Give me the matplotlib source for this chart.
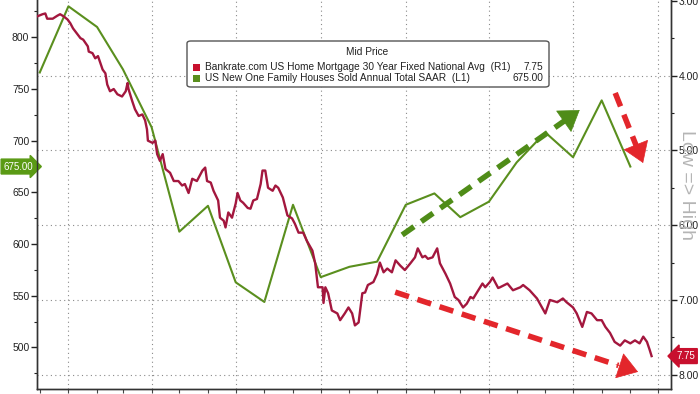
import numpy as np
import matplotlib
matplotlib.use("Agg")
import matplotlib.pyplot as plt
import matplotlib.dates as mdates
import matplotlib.transforms as mtrans
from matplotlib.patches import FancyBboxPatch, Rectangle

plt.rcParams['font.family'] = ['Liberation Sans', 'DejaVu Sans']

# ---------------- data ----------------
sales_months = ['2021-12', '2022-01', '2022-02', '2022-03', '2022-04', '2022-05', '2022-06',
                '2022-07', '2022-08', '2022-09', '2022-10', '2022-11', '2022-12', '2023-01',
                '2023-02', '2023-03', '2023-04', '2023-05', '2023-06', '2023-07', '2023-08',
                '2023-09']
sales_values = [766, 830, 810, 769, 713, 612, 637, 563, 544, 638, 568, 578, 583, 638,
                649, 626, 641, 679, 708, 684, 739, 675]

# mortgage rate: days since 2022-01-01 and rate (%)
mort_days = [-34, -28, -25, -23, -17, -12, -9, -5, -1, 2, 5, 10, 13, 16, 21, 22, 26, 29, 32,
             35, 37, 40, 42, 45, 49, 53, 58, 62, 64, 65, 69, 72, 76, 80, 83, 85, 86, 91, 94,
             96, 99, 102, 105, 110, 114, 119, 123, 126, 130, 134, 139, 145, 148, 150, 154,
             157, 162, 164, 168, 170, 173, 177, 181, 183, 186, 189, 194, 197, 200, 204, 208,
             210, 213, 216, 221, 224, 227, 232, 237, 242, 245, 249, 254, 258, 264, 267, 270,
             275, 276, 278, 281, 285, 291, 294, 299, 303, 307, 310, 314, 318, 321, 324, 330,
             334, 337, 341, 345, 350, 354, 359, 364, 370, 375, 378, 383, 386, 389, 394, 399,
             402, 408, 413, 418, 422, 427, 431, 435, 438, 442, 448, 451, 456, 459, 465, 467,
             475, 481, 489, 492, 499, 507, 516, 521, 529, 535, 539, 546, 550, 556, 561, 566,
             572, 577, 581, 586, 591, 597, 602, 608, 613, 618, 622, 626, 629, 631]
mort_rates = [3.21, 3.18, 3.17, 3.24, 3.24, 3.20, 3.18, 3.21, 3.25, 3.30, 3.37, 3.45, 3.50,
              3.52, 3.61, 3.68, 3.70, 3.77, 3.74, 3.85, 3.92, 3.97, 4.12, 4.21, 4.18, 4.25,
              4.28, 4.21, 4.10, 4.18, 4.34, 4.45, 4.54, 4.52, 4.60, 4.72, 4.87, 4.90, 4.87,
              5.05, 5.14, 5.05, 5.25, 5.30, 5.41, 5.41, 5.47, 5.45, 5.57, 5.38, 5.41, 5.27,
              5.23, 5.41, 5.43, 5.54, 5.67, 5.90, 5.94, 6.03, 5.83, 5.90, 5.71, 5.57, 5.67,
              5.70, 5.77, 5.78, 5.67, 5.65, 5.45, 5.27, 5.27, 5.50, 5.54, 5.47, 5.50, 5.63,
              5.87, 5.91, 5.98, 6.10, 6.10, 6.21, 6.34, 6.51, 6.83, 6.83, 7.04, 6.83, 6.91,
              7.14, 7.18, 7.27, 7.18, 7.10, 7.18, 7.34, 7.30, 6.91, 6.90, 6.80, 6.76, 6.65,
              6.50, 6.63, 6.58, 6.63, 6.47, 6.54, 6.60, 6.51, 6.43, 6.31, 6.43, 6.41, 6.45,
              6.43, 6.31, 6.51, 6.65, 6.78, 6.96, 7.00, 7.10, 7.05, 6.96, 6.98, 6.90, 6.78,
              6.83, 6.76, 6.70, 6.84, 6.83, 6.78, 6.87, 6.83, 6.80, 6.87, 6.98, 7.18, 7.00,
              7.03, 6.98, 7.03, 7.10, 7.18, 7.36, 7.16, 7.18, 7.27, 7.27, 7.36, 7.44, 7.56,
              7.61, 7.54, 7.58, 7.54, 7.58, 7.49, 7.56, 7.67, 7.75]

legend_title = "Mid Price"
mort_label = "Bankrate.com US Home Mortgage 30 Year Fixed National Avg  (R1)"
sales_label = "US New One Family Houses Sold Annual Total SAAR  (L1)"
mort_last = "7.75"
sales_last = "675.00"

# ---------------- styles ----------------
RED = '#a3173e'
GREEN = '#5a8f1e'
ARROW_RED = '#e3262b'
ARROW_GREEN = '#4f8c18'
TAG_GREEN = '#5a9a14'
TAG_RED = '#c8102e'

sales_dates = np.array([np.datetime64(m + '-01') for m in sales_months])
mort_dates = np.datetime64('2022-01-01') + np.array(mort_days).astype('timedelta64[D]')

fig = plt.figure(figsize=(7.0, 3.94), dpi=100)
ax = fig.add_axes([37 / 700, 5 / 394, 634 / 700, 389 / 394])
ax2 = ax.twinx()

ax.set_xlim(np.datetime64('2021-11-28'), np.datetime64('2023-10-15'))
ax.set_ylim(459.8, 836.1)
ax2.set_ylim(8.19, 2.99)

# gridlines
for q in ['2022-01-01', '2022-04-01', '2022-07-01', '2022-10-01', '2023-01-01',
          '2023-04-01', '2023-07-01', '2023-10-01']:
    ax.axvline(np.datetime64(q), color='#8a8a8a', lw=0.8, ls=(0, (1, 3)), zorder=0)
for r in [4, 5, 6, 7, 8]:
    ax2.axhline(r, color='#8a8a8a', lw=0.8, ls=(0, (1, 3)), zorder=0)

ax.plot(sales_dates, sales_values, color=GREEN, lw=1.5, zorder=3)
ax2.plot(mort_dates, mort_rates, color=RED, lw=1.7, zorder=3)

# ticks
ax.set_yticks([500, 550, 600, 650, 700, 750, 800])
ax.set_yticks(np.arange(475, 836, 25), minor=True)
ax2.set_yticks([3, 4, 5, 6, 7, 8])
ax2.set_yticklabels(['3.00', '4.00', '5.00', '6.00', '7.00', '8.00'])
ax2.set_yticks(np.arange(3.5, 8.1, 1.0), minor=True)
ax.xaxis.set_major_locator(mdates.MonthLocator())
ax.xaxis.set_major_formatter(plt.NullFormatter())
for a in (ax, ax2):
    a.tick_params(axis='y', which='major', length=4, width=1, labelsize=7.5,
                  colors='#222222', pad=1.5)
    a.tick_params(axis='y', which='minor', length=2.5, width=0.8, colors='#222222')
ax.tick_params(axis='x', length=3, width=0.8, colors='#444444')
for a in (ax, ax2):
    a.spines['top'].set_visible(False)
    for s in ('left', 'right', 'bottom'):
        a.spines[s].set_color('#333333')
        a.spines[s].set_linewidth(1.0)

# arrows (annotations, axes fraction)
def dashed_arrow(start, tip, color):
    sx, sy = start
    tx, ty = tip
    d = np.hypot(tx - sx, ty - sy)
    f = 1 - 0.035 / d
    ax2.plot([sx, sx + (tx - sx) * f], [sy, sy + (ty - sy) * f], transform=ax2.transAxes,
             color=color, lw=4, ls=(0, (2.6, 1.6)), solid_capstyle='butt', zorder=6)
    ax2.annotate('', xy=(tx, ty), xycoords='axes fraction',
                 xytext=(sx + (tx - sx) * (f - 0.01), sy + (ty - sy) * (f - 0.01)),
                 textcoords='axes fraction',
                 arrowprops=dict(arrowstyle='-|>,head_length=0.9,head_width=0.6',
                                 color=color, lw=0.5, shrinkA=0, shrinkB=0,
                                 mutation_scale=15), zorder=6)

dashed_arrow((0.576, 0.396), (0.856, 0.717), ARROW_GREEN)
dashed_arrow((0.565, 0.249), (0.948, 0.044), ARROW_RED)
dashed_arrow((0.912, 0.761), (0.956, 0.581), ARROW_RED)

# legend box (manual)
def fx(px):
    return (px - 37) / 634

def fy(py):
    return (389 - py) / 389

box = FancyBboxPatch((fx(187), fy(87)), fx(549) - fx(187), fy(41) - fy(87),
                     boxstyle='round,pad=0,rounding_size=0.006', transform=ax2.transAxes,
                     fc='white', ec='#555555', lw=1.0, zorder=8)
ax2.add_patch(box)
ax2.text(fx(367), fy(52), legend_title, transform=ax2.transAxes, ha='center', va='center',
         fontsize=7.3, color='#222222', zorder=9)
for py, col, lab, val in [(67, TAG_RED, mort_label, mort_last),
                          (78, GREEN, sales_label, sales_last)]:
    ax2.add_patch(Rectangle((fx(193), fy(py + 3.5)), fx(200) - fx(193), fy(py - 3.5) - fy(py + 3.5),
                            transform=ax2.transAxes, fc=col, ec='none', zorder=9))
    ax2.text(fx(205), fy(py), lab, transform=ax2.transAxes, ha='left', va='center',
             fontsize=7.3, color='#222222', zorder=9)
    ax2.text(fx(543), fy(py), val, transform=ax2.transAxes, ha='right', va='center',
             fontsize=7.3, color='#222222', zorder=9)

# last-value tags
tl = mtrans.blended_transform_factory(ax.transAxes, ax.transData)
ax.text(-0.006, sales_values[-1], sales_last, transform=tl, ha='right', va='center',
        fontsize=7, color='white', zorder=10, clip_on=False,
        bbox=dict(boxstyle='rarrow,pad=0.25', fc=TAG_GREEN, ec=TAG_GREEN))
tr = mtrans.blended_transform_factory(ax2.transAxes, ax2.transData)
ax2.text(1.008, mort_rates[-1], mort_last, transform=tr, ha='left', va='center',
         fontsize=7, color='white', zorder=10, clip_on=False,
         bbox=dict(boxstyle='larrow,pad=0.25', fc=TAG_RED, ec=TAG_RED))

fig.text(686 / 700, 1 - 185 / 394, 'Low => High', rotation=-90, ha='center', va='center',
         fontsize=14, color='#b5b5b5')

fig.savefig('out.png', dpi=100)
